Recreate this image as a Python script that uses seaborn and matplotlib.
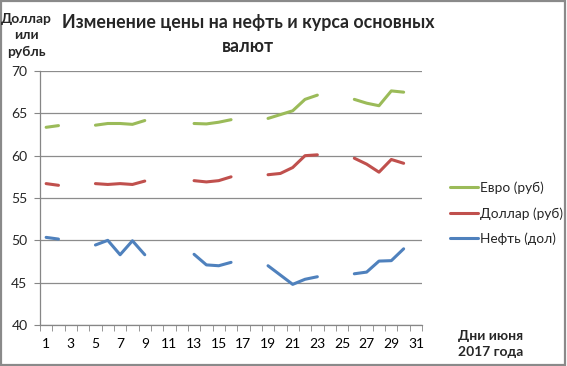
import matplotlib
matplotlib.use("Agg")
import matplotlib.pyplot as plt
import matplotlib.patches as mpatches
import seaborn as sns
import pandas as pd

# trading days of June 2017
days = [1, 2, 5, 6, 7, 8, 9, 13, 14, 15, 16, 19, 20, 21, 22, 23, 26, 27, 28, 29, 30]
euro = [63.35, 63.55, 63.6, 63.8, 63.8, 63.7, 64.15, 63.8, 63.75, 63.95, 64.25,
        64.4, 64.85, 65.3, 66.65, 67.15, 66.65, 66.2, 65.9, 67.65, 67.5]
dollar = [56.7, 56.5, 56.7, 56.6, 56.7, 56.6, 57.0, 57.05, 56.9, 57.05, 57.5,
          57.75, 57.9, 58.6, 60.0, 60.1, 59.7, 59.0, 58.05, 59.55, 59.1]
oil = [50.35, 50.15, 49.45, 50.0, 48.3, 49.95, 48.3, 48.35, 47.1, 47.0, 47.4,
       47.0, 45.9, 44.8, 45.4, 45.7, 46.05, 46.25, 47.55, 47.6, 49.0]
series_names = ["Евро (руб)", "Доллар (руб)", "Нефть (дол)"]
colors = ["#9BBB59", "#C0504D", "#4F81BD"]
y_ticks = [40, 45, 50, 55, 60, 65, 70]
x_labels = list(range(1, 32, 2))

# split into weekly segments so gaps stay empty
seg = []
s = 0
for i, d in enumerate(days):
    if i > 0 and d - days[i - 1] > 1:
        s += 1
    seg.append(s)

frames = []
for name, vals in zip(series_names, [euro, dollar, oil]):
    frames.append(pd.DataFrame({"day": days, "value": vals, "series": name, "seg": seg}))
df = pd.concat(frames, ignore_index=True)

sns.set_style("white")
plt.rcParams["font.family"] = ["Lato", "DejaVu Sans"]

fig = plt.figure(figsize=(5.67, 3.66), dpi=100)
ax = fig.add_axes([0.0705, 0.112, 0.674, 0.694])

sns.lineplot(data=df, x="day", y="value", hue="series", units="seg", estimator=None,
             palette=colors, hue_order=series_names, linewidth=2.2, ax=ax)

ax.set_xlim(0.5, 31.5)
ax.set_ylim(40, 70)
ax.set_yticks(y_ticks)
ax.set_xticks(x_labels)
ax.set_xticks([d + 0.5 for d in range(0, 32)], minor=True)
ax.tick_params(axis="x", which="major", length=0, pad=9, labelsize=10, colors="black")
ax.tick_params(axis="x", which="minor", length=4, color="#868686", direction="out", bottom=True)
ax.tick_params(axis="y", length=4, color="#868686", direction="out", left=True,
               labelsize=10, pad=5)
ax.grid(axis="y", color="#8c8c8c", linewidth=0.9)
ax.set_axisbelow(True)
for side in ["top", "right"]:
    ax.spines[side].set_visible(False)
for side in ["left", "bottom"]:
    ax.spines[side].set_color("#868686")
    ax.spines[side].set_linewidth(0.9)
ax.set_xlabel("")
ax.set_ylabel("")

leg = ax.legend(loc="center left", bbox_to_anchor=(1.04, 0.44), frameon=False,
                fontsize=9.8, handlelength=2.1, handletextpad=0.1, labelspacing=0.95)

fig.text(0.437, 0.906, "Изменение цены на нефть и курса основных\nвалют",
         ha="center", va="center", fontsize=12.8, fontweight="bold", linespacing=1.45)
fig.text(0.046, 0.904, "Доллар\nили\nрубль", ha="center", va="center",
         fontsize=10, fontweight="bold", linespacing=1.45)
fig.text(0.865, 0.06, "Дни июня\n2017 года", ha="center", va="center",
         fontsize=10, fontweight="bold", linespacing=1.4)

fig.patches.append(mpatches.Rectangle((0.002, 0.003), 0.995, 0.993, transform=fig.transFigure,
                                      fill=False, edgecolor="#8a8a8a", linewidth=1.6))

fig.savefig("out.png", dpi=100)
